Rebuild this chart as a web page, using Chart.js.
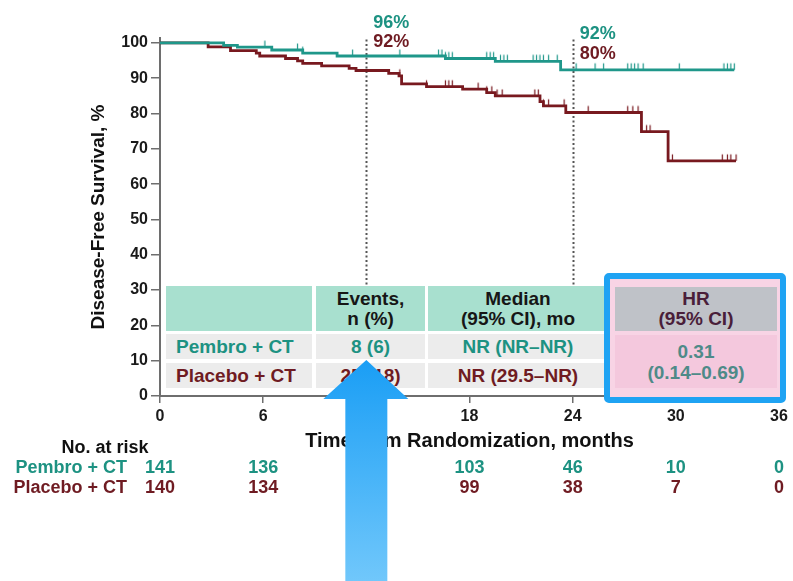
<!DOCTYPE html>
<html>
<head>
<meta charset="utf-8">
<script src="https://cdn.jsdelivr.net/npm/chart.js@4.4.1/dist/chart.umd.min.js"></script>
<style>
  html, body { margin: 0; padding: 0; background: #ffffff; }
  #wrap { position: relative; width: 793px; height: 581px; overflow: hidden;
          font-family: "Liberation Sans", Arial, Helvetica, sans-serif; font-weight: bold; }
  #c { position: absolute; left: 0; top: 0; }
  .abs { position: absolute; white-space: nowrap; }
  .cell { position: absolute; display: flex; flex-direction: column; align-items: center;
          justify-content: center; text-align: center; font-size: 19px; line-height: 20px; white-space: nowrap; }
  #arrow { position: absolute; left: 0; top: 0; pointer-events: none; }
</style>
</head>
<body>
<div id="wrap">
  <canvas id="c" width="793" height="581"></canvas>
  <div id="overlay"></div>
  <svg id="arrow" width="793" height="581"></svg>
</div>
<script>
// Kaplan-Meier step data: time of each drop (months) and survival after it (%)
const pembroTimes = [0, 3.7, 4.5, 6.5, 8.3, 10.3, 16.6, 19.5, 23.3, 33.4];
const pembroSurv  = [100, 99.3, 98.8, 98.0, 97.1, 96.3, 95.6, 94.8, 92.4, 92.4];

const placeboTimes = [0, 2.8, 4.1, 5.6, 5.8, 7.3, 8.0, 8.3, 9.4, 11.0, 11.4, 13.3, 13.9, 14.05,
                      15.5, 17.6, 19.0, 19.5, 22.1, 22.3, 23.6, 28.0, 29.55, 33.5];
const placeboSurv  = [100, 98.9, 97.8, 97.1, 96.3, 95.6, 94.9, 94.2, 93.5, 92.8, 92.2, 91.4, 90.7, 88.4,
                      87.6, 86.9, 85.9, 85.0, 83.4, 82.2, 80.3, 74.9, 66.6, 66.6];

// Censoring times (months)
const pembroCensor = [6.1, 8.0, 8.3, 11.2, 13.95, 16.2, 16.4, 16.6, 16.8, 17.0, 19.0, 19.2, 19.4,
                      19.8, 20.0, 20.2, 21.7, 21.9, 22.1, 22.3, 22.6, 23.1, 24.2, 25.3, 25.8,
                      27.2, 27.4, 27.6, 27.8, 28.1, 30.2, 32.8, 33.0, 33.2, 33.4];
const placeboCensor = [13.95, 15.5, 16.6, 16.8, 17.0, 18.5, 19.0, 19.3, 19.6, 19.9, 21.8, 22.0,
                       22.3, 22.6, 23.5, 24.9, 27.2, 27.5, 27.8, 28.0, 28.3, 28.5, 29.8, 32.7,
                       33.0, 33.2, 33.5];

// Axis ticks
const xTicks = [0, 6, 12, 18, 24, 30, 36];
const yTicks = [0, 10, 20, 30, 40, 50, 60, 70, 80, 90, 100];

// Landmark estimates
const landmarkMonths  = [12, 24];
const pembroLandmark  = [96, 92];
const placeboLandmark = [92, 80];

// Number at risk
const riskMonths    = [0, 6, 12, 18, 24, 30, 36];
const pembroAtRisk  = [141, 136, null, 103, 46, 10, 0];
const placeboAtRisk = [140, 134, null, 99, 38, 7, 0];

// Summary table
const armNames   = ['Pembro + CT', 'Placebo + CT'];
const eventsText = ['8 (6)', '25 (18)'];
const medianText = ['NR (NR–NR)', 'NR (29.5–NR)'];
const hrText     = ['0.31', '(0.14–0.69)'];

const TEAL = '#1f978a';
const MAROON = '#78191f';
const TEAL_TXT = '#1d9282';
const MAROON_TXT = '#6f1b22';
const FONT = '"Liberation Sans", Arial, Helvetica, sans-serif';

function survAt(times, surv, t) {
  let v = surv[0];
  for (let i = 0; i < times.length; i++) if (times[i] <= t) v = surv[i];
  return v;
}

// Small upward tick used as the censoring mark
function censorMark(color) {
  const cv = document.createElement('canvas');
  cv.width = 3; cv.height = 16;
  const g = cv.getContext('2d');
  g.strokeStyle = color; g.lineWidth = 1.2;
  g.beginPath(); g.moveTo(1.5, 1.5); g.lineTo(1.5, 8); g.stroke();
  return cv;
}

// Dotted landmark verticals
const landmarkLines = {
  id: 'landmarkLines',
  beforeDatasetsDraw(chart) {
    const { ctx, scales: { x, y } } = chart;
    ctx.save();
    ctx.strokeStyle = '#555';
    ctx.lineWidth = 2;
    ctx.setLineDash([2, 2.5]);
    landmarkMonths.forEach(m => {
      const px = Math.round(x.getPixelForValue(m)) + 0.5;
      ctx.beginPath();
      ctx.moveTo(px, y.getPixelForValue(101));
      ctx.lineTo(px, y.getPixelForValue(28));
      ctx.stroke();
    });
    ctx.restore();
  }
};

const axisCommon = {
  grid: { display: true, drawOnChartArea: false, drawTicks: true, color: '#6e6e6e', lineWidth: 1.5 },
  border: { display: true, color: '#6e6e6e', width: 2 }
};

const chart = new Chart(document.getElementById('c'), {
  data: {
    datasets: [
      { type: 'line', label: 'Pembro + CT',
        data: pembroTimes.map((t, i) => ({ x: t, y: pembroSurv[i] })),
        stepped: 'before', borderColor: TEAL, borderWidth: 2.8, pointRadius: 0, fill: false },
      { type: 'line', label: 'Placebo + CT',
        data: placeboTimes.map((t, i) => ({ x: t, y: placeboSurv[i] })),
        stepped: 'before', borderColor: MAROON, borderWidth: 2.8, pointRadius: 0, fill: false },
      { type: 'scatter', label: 'Pembro censored',
        data: pembroCensor.map(t => ({ x: t, y: survAt(pembroTimes, pembroSurv, t) })),
        pointStyle: censorMark(TEAL), pointRadius: 3 },
      { type: 'scatter', label: 'Placebo censored',
        data: placeboCensor.map(t => ({ x: t, y: survAt(placeboTimes, placeboSurv, t) })),
        pointStyle: censorMark(MAROON), pointRadius: 3 }
    ]
  },
  options: {
    responsive: false,
    devicePixelRatio: 1,
    animation: false,
    events: [],
    layout: { padding: { left: 0, right: 14, top: 38, bottom: 125 } },
    plugins: { legend: { display: false }, tooltip: { enabled: false } },
    scales: {
      x: {
        type: 'linear', min: 0, max: 36,
        afterBuildTicks: s => { s.ticks = xTicks.map(v => ({ value: v })); },
        afterFit: s => { s.height = 60; },
        ticks: { font: { family: FONT, size: 16, weight: 'bold' }, color: '#1a1a1a', padding: 4,
                 maxRotation: 0, autoSkip: false },
        grid: { ...axisCommon.grid, tickLength: 7 },
        border: axisCommon.border,
        title: { display: true, text: 'Time from Randomization, months', color: '#111',
                 font: { family: FONT, size: 20, weight: 'bold' }, padding: { top: 0, bottom: 3 } }
      },
      y: {
        type: 'linear', min: 0, max: 101.4,
        afterBuildTicks: s => { s.ticks = yTicks.map(v => ({ value: v })); },
        afterFit: s => { s.width = 160; },
        ticks: { font: { family: FONT, size: 16, weight: 'bold' }, color: '#1a1a1a', padding: 3 },
        grid: { ...axisCommon.grid, tickLength: 9 },
        border: axisCommon.border,
        title: { display: true, text: 'Disease-Free Survival, %', color: '#111',
                 font: { family: FONT, size: 19, weight: 'bold' }, padding: { top: 87, bottom: 0 } }
      }
    }
  },
  plugins: [landmarkLines]
});

// ---------- HTML overlays: landmark labels, summary table, risk table, arrow ----------
const overlay = document.getElementById('overlay');
function addText(txt, left, top, color, size, anchor) {
  const d = document.createElement('div');
  d.className = 'abs';
  d.textContent = txt;
  d.style.left = left + 'px';
  d.style.top = top + 'px';
  d.style.color = color;
  d.style.fontSize = size + 'px';
  d.style.lineHeight = '1';
  const tx = anchor === 'right' ? '-100%' : anchor === 'left' ? '0' : '-50%';
  d.style.transform = 'translate(' + tx + ', -50%)';
  overlay.appendChild(d);
  return d;
}
function addCell(lines, left, top, w, h, bg, color, align) {
  const d = document.createElement('div');
  d.className = 'cell';
  Object.assign(d.style, { left: left + 'px', top: top + 'px', width: w + 'px', height: h + 'px',
                           background: bg, color: color });
  if (align === 'left') { d.style.alignItems = 'flex-start'; d.style.paddingLeft = '10px'; d.style.width = (w - 10) + 'px'; }
  lines.forEach(l => { const s = document.createElement('div'); s.textContent = l; d.appendChild(s); });
  overlay.appendChild(d);
  return d;
}

const xs = chart.scales.x;

// Landmark percentages beside the dotted lines
const landmarkY = [[22, 41], [33, 53]];
landmarkMonths.forEach((m, i) => {
  const px = xs.getPixelForValue(m) + 7;
  addText(pembroLandmark[i] + '%', px, landmarkY[i][0], TEAL_TXT, 18, 'left');
  addText(placeboLandmark[i] + '%', px, landmarkY[i][1], MAROON_TXT, 18, 'left');
});

// Summary table
const MINT = '#a8e0cf', ROWBG = '#ececec';
addCell([''], 166, 286, 146, 45, MINT, '#161616');
addCell(['Events,', 'n (%)'], 316, 286, 109, 45, MINT, '#161616');
addCell(['Median', '(95% CI), mo'], 428, 286, 180, 45, MINT, '#161616');
const rowTops = [334, 363];
const rowColors = [TEAL_TXT, MAROON_TXT];
rowTops.forEach((t, i) => {
  addCell([armNames[i]], 166, t, 146, 25, ROWBG, rowColors[i], 'left');
  addCell([eventsText[i]], 316, t, 109, 25, ROWBG, rowColors[i]);
  addCell([medianText[i]], 428, t, 180, 25, ROWBG, rowColors[i]);
});
// Hazard ratio block
const hrBox = document.createElement('div');
Object.assign(hrBox.style, { position: 'absolute', left: '604px', top: '273px', width: '170px', height: '118px',
  border: '6px solid #1fa3f3', borderRadius: '5px', background: '#f8d4e5' });
overlay.appendChild(hrBox);
addCell(['HR', '(95% CI)'], 615, 287, 162, 44, '#bfc2c8', '#4a1e3a');
const hrVal = addCell(hrText, 615, 335, 162, 53, '#f4c8dd', '#4e8a88');
hrVal.style.lineHeight = '21px';

// Number at risk
addText('No. at risk', 105, 447, '#111', 18, 'center');
addText(armNames[0], 127, 467, TEAL_TXT, 18, 'right');
addText(armNames[1], 127, 487, MAROON_TXT, 18, 'right');
riskMonths.forEach((m, i) => {
  const px = xs.getPixelForValue(m);
  if (pembroAtRisk[i] !== null) addText(String(pembroAtRisk[i]), px, 467, TEAL_TXT, 18, 'center');
  if (placeboAtRisk[i] !== null) addText(String(placeboAtRisk[i]), px, 487, MAROON_TXT, 18, 'center');
});

// Callout arrow pointing at the events column
const ax = xs.getPixelForValue(12);
const svg = document.getElementById('arrow');
svg.innerHTML =
  '<defs><linearGradient id="ag" x1="0" y1="0" x2="0" y2="1">' +
  '<stop offset="0" stop-color="#1a9ef5"/><stop offset="1" stop-color="#72c8fb"/></linearGradient></defs>' +
  '<polygon fill="url(#ag)" points="' +
  [[ax, 360], [ax + 42, 399], [ax + 21, 399], [ax + 21, 585], [ax - 21, 585], [ax - 21, 399], [ax - 43, 399]]
    .map(p => p.join(',')).join(' ') + '"/>';
</script>
</body>
</html>
